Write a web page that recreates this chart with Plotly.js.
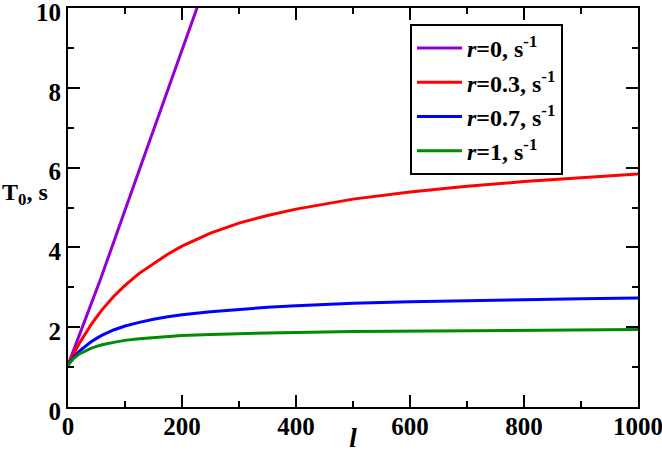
<!DOCTYPE html>
<html>
<head>
<meta charset="utf-8">
<script src="https://cdn.plot.ly/plotly-3.0.1.min.js"></script>
<style>
  body { margin: 0; background: #fff; }
  #chart { width: 662px; height: 453px; }
</style>
</head>
<body>
<div id="chart"></div>
<script>
// values
var lPurple = [0, 57, 131, 226, 240];
var tPurple = [1.05, 3.2, 6.18, 10, 10.55];

var lGrid = [0, 5, 10, 20, 30, 40, 50, 60, 80, 100, 125, 150, 175, 200, 250, 300, 350, 400, 500, 600, 700, 800, 900, 1000];
var tRed   = [1.05, 1.2, 1.34, 1.6, 1.83, 2.05, 2.25, 2.44, 2.77, 3.05, 3.35, 3.6, 3.83, 4.03, 4.36, 4.61, 4.8, 4.96, 5.21, 5.39, 5.53, 5.65, 5.75, 5.84];
var tBlue  = [1.05, 1.15, 1.25, 1.4, 1.52, 1.63, 1.72, 1.8, 1.93, 2.03, 2.12, 2.2, 2.26, 2.31, 2.39, 2.45, 2.5, 2.54, 2.6, 2.64, 2.67, 2.69, 2.71, 2.73];
var tGreen = [1.05, 1.14, 1.22, 1.33, 1.41, 1.47, 1.52, 1.56, 1.62, 1.67, 1.71, 1.74, 1.77, 1.79, 1.82, 1.84, 1.86, 1.87, 1.89, 1.9, 1.91, 1.92, 1.93, 1.94];

var names = ["0", "0.3", "0.7", "1"];
var colors = ["rgb(148,0,211)", "rgb(255,0,0)", "rgb(0,0,255)", "rgb(0,139,0)"];

var serif = "Liberation Serif";

function mk(x, y, i) {
    return {
        x: x, y: y,
        type: "scatter", mode: "lines",
        name: "<b><i>r</i>=" + names[i] + ", s<sup>-1</sup></b>",
        line: {color: colors[i], width: 3}
    };
}

var data = [
    mk(lPurple, tPurple, 0),
    mk(lGrid, tRed, 1),
    mk(lGrid, tBlue, 2),
    mk(lGrid, tGreen, 3)
];

var axisCommon = {
    showline: true, linecolor: "black", linewidth: 2,
    mirror: "ticks", ticks: "inside", ticklen: 12, tickwidth: 2, tickcolor: "black",
    showgrid: false, zeroline: false, ticklabeloverflow: "allow",
    tickfont: {family: serif, size: 25, color: "black", weight: "bold"}
};

var layout = {
    width: 662, height: 453,
    margin: {l: 68, r: 24, t: 8, b: 46},
    paper_bgcolor: "white", plot_bgcolor: "white",
    showlegend: true,
    legend: {
        x: 0.6, y: 0.96, xanchor: "left", yanchor: "top",
        itemwidth: 45,
        bordercolor: "black", borderwidth: 2, bgcolor: "white",
        font: {family: serif, size: 24, color: "black"}
    },
    xaxis: Object.assign({}, axisCommon, {
        range: [0, 1000], dtick: 200, ticklabelstandoff: -4,
        minor: {dtick: 100, ticks: "inside", ticklen: 6, tickwidth: 2, tickcolor: "black"},
        title: {text: "<b><i>l</i></b>", font: {family: serif, size: 27, color: "black"}, standoff: 3}
    }),
    yaxis: Object.assign({}, axisCommon, {
        range: [0, 10], dtick: 2, ticklabelshift: 4,
        minor: {dtick: 1, ticks: "inside", ticklen: 6, tickwidth: 2, tickcolor: "black"}
    }),
    annotations: [{
        xref: "paper", yref: "y", x: -0.119, y: 5.35,
        xanchor: "left", yanchor: "middle", showarrow: false,
        text: "<b>T<sub>0</sub>, s</b>",
        font: {family: serif, size: 24, color: "black"}
    }]
};

Plotly.newPlot("chart", data, layout, {displayModeBar: false});
</script>
</body>
</html>
